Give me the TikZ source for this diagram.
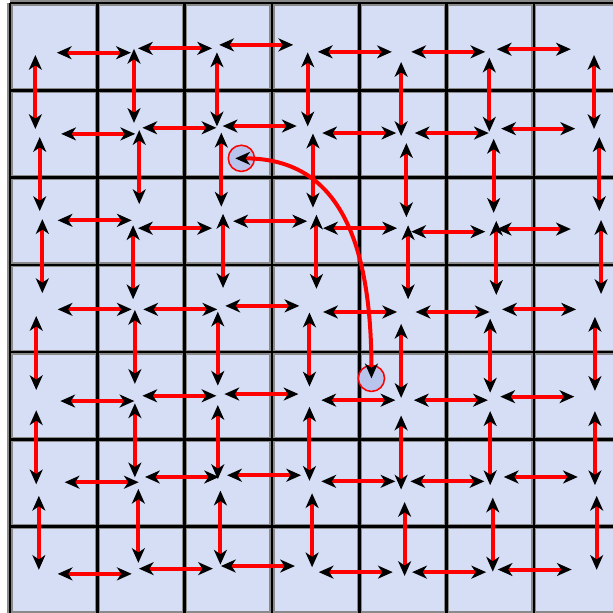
\documentclass[tikz,border=0pt]{standalone}
\usetikzlibrary{arrows.meta}
\definecolor{cellblue}{HTML}{D5DEF5}
\definecolor{siteblue}{HTML}{B8C4EC}
\definecolor{bondred}{HTML}{FF0000}
\definecolor{gridgray}{HTML}{8A8A8A}

\begin{document}
\begin{tikzpicture}[>={Stealth[length=4.8pt,width=4.2pt,inset=1.4pt,color=black]},
  bond/.style={<->,line width=1.3pt,bondred},
  hop/.style={<->,line width=1.3pt,bondred},
  site/.style={circle,draw=bondred,line width=0.5pt,fill=siteblue,
    minimum size=0.30cm,inner sep=0pt}]
\useasboundingbox (-0.115,0.013) rectangle (6.907,7.034);

\fill[cellblue] (0,0) rectangle (7,7);
\draw[gridgray,line width=1.7pt] (0,0) grid (7,7);
\draw[black,line width=0.85pt] (0,0) grid (7,7);

% horizontal bonds, given by their centres
\foreach \x/\y in {0.96/6.43,1.89/6.48,2.82/6.52,3.95/6.44,5.02/6.44,6.00/6.47,
    1.01/5.50,1.94/5.57,2.86/5.59,4.00/5.51,5.06/5.51,6.05/5.56,
    0.97/4.51,1.89/4.42,2.98/4.50,4.01/4.42,5.02/4.38,6.00/4.41,
    0.97/3.49,1.95/3.49,2.89/3.53,4.01/3.46,5.07/3.46,6.06/3.49,
    1.00/2.44,1.94/2.50,2.88/2.52,3.99/2.45,5.05/2.45,6.04/2.49,
    1.05/1.51,1.97/1.57,2.91/1.59,3.99/1.52,5.01/1.52,6.08/1.57,
    0.97/0.46,1.90/0.52,2.84/0.55,3.96/0.48,5.03/0.48,6.01/0.51}
  \draw[bond] (\x-0.424,\y) -- (\x+0.424,\y);

% vertical bonds
\foreach \x/\y in {0.29/5.98,1.42/6.05,2.37/6.01,3.41/6.01,4.48/5.90,5.49/5.95,6.69/5.98,
    0.34/5.04,1.48/5.12,2.42/5.09,3.47/5.08,4.54/4.97,5.54/5.02,6.75/5.04,
    0.37/4.10,1.41/4.03,2.44/4.16,3.51/4.15,4.56/4.03,5.57/4.08,6.77/4.09,
    0.30/2.99,1.43/3.06,2.38/3.04,3.43/3.03,4.48/2.90,5.50/2.96,6.70/2.98,
    0.30/1.91,1.43/1.99,2.38/1.97,3.43/1.95,4.48/1.85,5.50/1.90,6.70/1.90,
    0.33/0.93,1.47/1.01,2.41/0.99,3.46/0.96,4.52/0.86,5.53/0.91,6.72/0.93}
  \draw[bond] (\x,\y+0.424) -- (\x,\y-0.424);

\node[site] (hopA) at (2.65,5.22) {};
\node[site] (hopB) at (4.14,2.70) {};
\draw[hop,shorten <=-2pt] (hopA.center) .. controls +(0.85,0) and +(0,2.0) .. (hopB.center);
\end{tikzpicture}
\end{document}
